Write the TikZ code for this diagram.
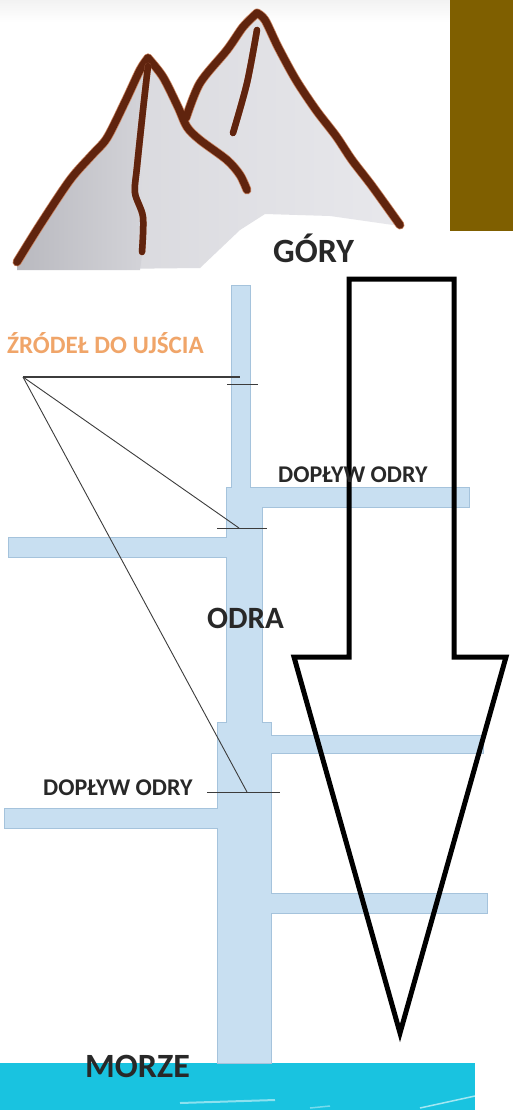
\documentclass[tikz,border=0pt]{standalone}
\usepackage{fontspec}
\setmainfont{Carlito}
\definecolor{txtgray}{RGB}{40,40,40}
\definecolor{srcorange}{RGB}{240,165,105}
\definecolor{riverblue}{RGB}{200,223,241}
\definecolor{riveredge}{RGB}{165,195,220}
\definecolor{leadgray}{RGB}{60,60,60}
\definecolor{mtbrown}{RGB}{96,36,14}
\definecolor{mthalo}{RGB}{200,130,95}
\definecolor{mtdark}{RGB}{185,185,191}
\definecolor{mtmid}{RGB}{212,212,217}
\definecolor{mtlight}{RGB}{232,232,236}
\definecolor{boxbrown}{RGB}{127,95,0}
\definecolor{seacyan}{RGB}{25,195,224}
\begin{document}
\begin{tikzpicture}[x=1pt,y=-1pt,
  lbl/.style={inner sep=0pt, anchor=base west, font=\bfseries, text=txtgray},
  riverfill/.style={fill=riverblue, draw=riveredge, line width=0.8pt},
  lead/.style={draw=leadgray, line width=0.9pt},
  tick/.style={draw=leadgray, line width=1pt},
  brownline/.style={draw=mtbrown, line width=7.5pt, line cap=round, line join=round},
  halo/.style={draw=mthalo, line width=9pt, line cap=round, line join=round},
  arrowline/.style={draw=black, line width=5pt, line join=miter}]
\useasboundingbox (0,0) rectangle (513,1110);
\fill[white] (0,0) rectangle (513,1110);
\shade[top color=gray!10, bottom color=white] (0,0) rectangle (450,22);
% brown box
\fill[boxbrown] (450,0) rectangle (513,231);
% mountains fill
\shade[left color=mtmid, right color=mtlight]
  (17,264) -- (40,225) -- (70,178) -- (90,155) -- (105,140) -- (125,100) -- (140,68) -- (148,58)
  -- (163,77) -- (178,107) -- (188,112) -- (200,83) -- (227,50) -- (243,27) -- (257,13)
  -- (264,18) -- (277,45) -- (296,80) -- (316,110) -- (336,135) -- (352,160) -- (372,185) -- (400,226)
  -- (330,216) -- (265,214) -- (240,230) -- (200,268) -- (17,270) -- cycle;
\shade[left color=mtdark, right color=mtmid]
  (17,264) -- (40,225) -- (70,178) -- (90,155) -- (105,140) -- (125,100) -- (140,68) -- (148,60)
  -- (143,110) -- (137,167) -- (135,193) -- (143,217) -- (142,255) -- (140,270) -- (17,270) -- cycle;
% mountain strokes
\foreach \s in {halo,brownline}{
  \draw[\s] plot[smooth] coordinates {(17,262)(40,225)(70,180)(92,155)(107,138)(125,102)(140,70)(148,58)};
  \draw[\s] plot[smooth] coordinates {(148,58)(163,77)(178,107)(187,127)(200,140)(227,160)(240,175)(247,190)};
  \draw[\s] plot[smooth] coordinates {(186,118)(200,83)(227,50)(243,27)(257,13)};
  \draw[\s] plot[smooth] coordinates {(257,13)(265,20)(278,47)(296,80)(316,110)(336,136)(352,160)(372,186)(400,225)};
}
\foreach \s in {halo,brownline}{
  \draw[\s, line width=6.5pt] plot[smooth] coordinates {(148,66)(143,110)(137,167)(135,193)(143,217)(142,252)};
  \draw[\s, line width=6.5pt] plot[smooth] coordinates {(257,30)(247,83)(233,133)};
}
\node[lbl, font=\bfseries\fontsize{34}{40}\selectfont] (gory) at (273,262) {GÓRY};
% sea
\fill[seacyan] (0,1063) rectangle (475,1110);
\draw[white, opacity=0.5, line width=2pt] (180,1103) -- (275,1100);
\draw[white, opacity=0.4, line width=1.5pt] (310,1108) -- (330,1106);
\draw[white, opacity=0.6, line width=1.5pt] (420,1108) -- (475,1096);
% river
\path[riverfill] (231,285) -- (250,285) -- (250,487) -- (469,487) -- (469,507) -- (262,507)
  -- (262,722) -- (271,722) -- (271,735) -- (483,735) -- (483,753) -- (271,753)
  -- (271,893) -- (487,893) -- (487,913) -- (271,913) -- (271,1063) -- (217,1063)
  -- (217,828) -- (4,828) -- (4,808) -- (217,808) -- (217,722) -- (226,722)
  -- (226,557) -- (8,557) -- (8,537) -- (226,537) -- (226,487) -- (231,487) -- cycle;
% leader lines
\coordinate (src) at (23,377);
\coordinate (t1) at (240,377);
\coordinate (t2) at (239,528);
\coordinate (t3) at (247,792);
\draw[lead, line width=1.2pt] (src) -- (t1);
\draw[lead] (src) -- (t2);
\draw[lead] (src) -- (t3);
\coordinate (k1a) at (227,384); \coordinate (k1b) at (258,384);
\coordinate (k2a) at (217,528); \coordinate (k2b) at (267,528);
\coordinate (k3a) at (207,792); \coordinate (k3b) at (280,792);
\draw[tick] (k1a) -- (k1b);
\draw[tick] (k2a) -- (k2b);
\draw[tick] (k3a) -- (k3b);
% big arrow
\path[arrowline] (349,279) -- (454,279) -- (454,657) -- (506,657) -- (400,1033) -- (294,657) -- (349,657) -- cycle;
% labels
\node[lbl, text=srcorange, font=\bfseries\fontsize{25}{30}\selectfont] (src label) at (7,353) {ŹRÓDEŁ DO UJŚCIA};
\node[lbl, font=\bfseries\fontsize{24}{29}\selectfont] (dop1) at (278,482) {DOPŁYW ODRY};
\node[lbl, font=\bfseries\fontsize{31}{36}\selectfont] (odra) at (207,628) {ODRA};
\node[lbl, font=\bfseries\fontsize{24}{29}\selectfont] (dop2) at (43,795) {DOPŁYW ODRY};
\node[lbl, font=\bfseries\fontsize{34}{40}\selectfont] (morze) at (85,1077) {MORZE};
\end{tikzpicture}
\end{document}
